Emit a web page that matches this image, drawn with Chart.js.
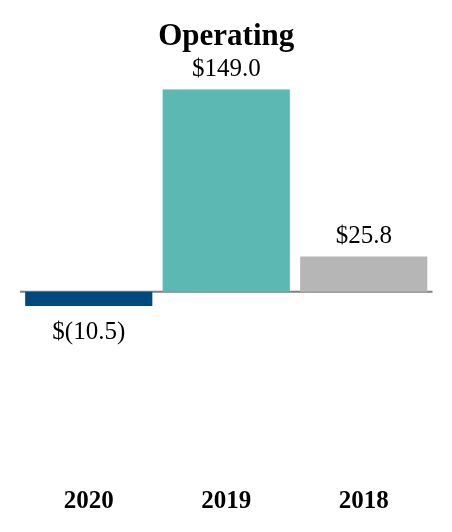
<!DOCTYPE html>
<html>
<head>
<meta charset="utf-8">
<script src="https://cdn.jsdelivr.net/npm/chart.js@4"></script>
<style>
html,body{margin:0;padding:0;background:#fff;}
#wrap{width:452px;height:532px;}
</style>
</head>
<body>
<div id="wrap"><canvas id="c" width="452" height="532"></canvas></div>
<script>
const categories = ['2020', '2019', '2018'];
const values = [-10.5, 149.0, 25.8];
const valueLabels = ['$(10.5)', '$149.0', '$25.8'];
const barColors = ['#00497f', '#5bb8b2', '#b6b6b6'];
const chartTitle = 'Operating';

const serif = '"Liberation Serif", "Times New Roman", serif';

const zeroLine = {
  id: 'zeroLine',
  beforeDatasetsDraw(chart) {
    const {ctx, chartArea, scales} = chart;
    const y = scales.y.getPixelForValue(0);
    ctx.save();
    ctx.strokeStyle = '#808080';
    ctx.lineWidth = 2;
    ctx.beginPath();
    ctx.moveTo(chartArea.left, y);
    ctx.lineTo(chartArea.right, y);
    ctx.stroke();
    ctx.restore();
  }
};

const valueLabelsPlugin = {
  id: 'valueLabels',
  afterDatasetsDraw(chart) {
    const {ctx} = chart;
    const meta = chart.getDatasetMeta(0);
    ctx.save();
    ctx.font = '25px ' + serif;
    ctx.fillStyle = '#000';
    ctx.textAlign = 'center';
    ctx.textBaseline = 'middle';
    meta.data.forEach((bar, i) => {
      const v = values[i];
      const y = v >= 0 ? bar.y - 20 : bar.y + 26;
      ctx.fillText(valueLabels[i], bar.x, y);
    });
    ctx.restore();
  }
};

new Chart(document.getElementById('c'), {
  type: 'bar',
  data: {
    labels: categories,
    datasets: [{
      data: values,
      backgroundColor: barColors,
      borderWidth: 0,
      barPercentage: 0.925,
      categoryPercentage: 1.0
    }]
  },
  options: {
    responsive: false,
    animation: false,
    events: [],
    layout: { padding: { left: 20, right: 19.5, top: 0, bottom: 0 } },
    plugins: {
      legend: { display: false },
      tooltip: { enabled: false },
      title: {
        display: true,
        text: chartTitle,
        color: '#000',
        font: { family: serif, size: 31, weight: 'bold' },
        padding: { top: 18, bottom: 34 }
      }
    },
    scales: {
      x: {
        grid: { display: false, drawTicks: false },
        border: { display: false },
        ticks: {
          color: '#000',
          padding: 15,
          font: { family: serif, size: 25, weight: 'bold' }
        }
      },
      y: {
        display: false,
        min: -132.7,
        max: 149
      }
    }
  },
  plugins: [zeroLine, valueLabelsPlugin]
});
</script>
</body>
</html>
